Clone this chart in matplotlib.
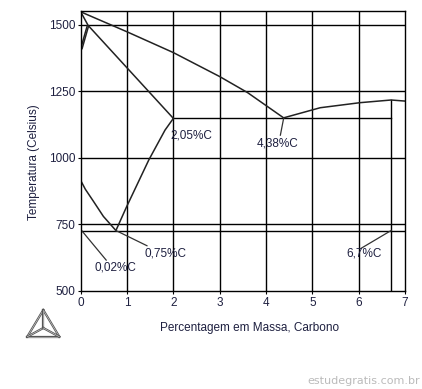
import matplotlib
matplotlib.use("Agg")
import matplotlib.pyplot as plt
from matplotlib.lines import Line2D

# Fe-C phase diagram values (carbon wt%, temperature C)
liquidus_left_c = [0, 1.0, 2.0, 3.0, 3.6, 4.38]
liquidus_left_t = [1548, 1473, 1395, 1305, 1245, 1150]
liquidus_right_c = [4.38, 5.17, 6.03, 6.7, 7.0]
liquidus_right_t = [1150, 1188, 1207, 1217, 1213]
solidus_c = [0, 0.16, 2.0]
solidus_t = [1548, 1497, 1148]
delta_a_c = [0, 0.14]
delta_a_t = [1410, 1495]
delta_b_c = [0.03, 0.17]
delta_b_t = [1410, 1495]
a3_c = [0, 0.1, 0.27, 0.49, 0.76]
a3_t = [915, 882, 838, 780, 727]
acm_c = [0.76, 0.99, 1.47, 1.82, 2.0]
acm_t = [727, 816, 992, 1104, 1148]

eutectic_t = 1148
eutectic_c = [2.0, 6.7]
eutectoid_t = 727
cementite_c = 6.7

x_ticks = [0, 1, 2, 3, 4, 5, 6, 7]
y_ticks = [500, 750, 1000, 1250, 1500]

# label text, anchor point, text position
labels = [
    ("2,05%C", None, (1.93, 1085)),
    ("4,38%C", (4.38, 1148), (4.25, 1052)),
    ("0,75%C", (0.76, 727), (1.83, 639)),
    ("0,02%C", (0.02, 727), (0.76, 590)),
    ("6,7%C", (6.7, 727), (6.11, 639)),
]
leader_ends = {
    "4,38%C": (4.31, 1085),
    "0,75%C": (1.43, 670),
    "0,02%C": (0.55, 616),
    "6,7%C": (6.06, 661),
}

plt.rcParams["font.family"] = ["Liberation Sans", "DejaVu Sans"]
fs = 8.5

W, H = 422, 389
fig = plt.figure(figsize=(W / 100, H / 100), dpi=100)
ax = fig.add_axes([80.7 / W, 1 - 291 / H, (405 - 80.7) / W, (291 - 11.3) / H])
ax.set_xlim(0, 7)
ax.set_ylim(500, 1550)

lw = 1.0
for x in x_ticks[1:-1]:
    ax.axvline(x, color="black", lw=lw)
for y in y_ticks[1:]:
    ax.axhline(y, color="black", lw=lw)
ax.axhline(eutectoid_t, color="black", lw=lw)
ax.plot(eutectic_c, [eutectic_t, eutectic_t], color="black", lw=lw)
ax.plot([cementite_c, cementite_c], [500, liquidus_right_t[3]], color="black", lw=lw)

curve = dict(color="#222222", lw=1.1)
ax.plot(liquidus_left_c, liquidus_left_t, **curve)
ax.plot(liquidus_right_c, liquidus_right_t, **curve)
ax.plot(solidus_c, solidus_t, **curve)
ax.plot(delta_a_c, delta_a_t, **curve)
ax.plot(delta_b_c, delta_b_t, **curve)
ax.plot(a3_c, a3_t, **curve)
ax.plot(acm_c, acm_t, **curve)

label_color = "#1e2040"
for text, anchor, pos in labels:
    if anchor is not None:
        end = leader_ends[text]
        ax.plot([anchor[0], end[0]], [anchor[1], end[1]], color="#333333", lw=0.9)
    ha = "left" if anchor is None else "center"
    ax.text(pos[0], pos[1], text, ha=ha, va="center", fontsize=fs, color=label_color)

for s in ax.spines.values():
    s.set_linewidth(1.0)
ax.set_xticks(x_ticks)
ax.set_yticks(y_ticks)
ax.tick_params(length=2, width=0.8, labelsize=fs, pad=2, colors="black")
for lab in ax.get_xticklabels() + ax.get_yticklabels():
    lab.set_color(label_color)

fig.text(250 / W, 1 - 328 / H, "Percentagem em Massa, Carbono",
         ha="center", va="center", fontsize=fs, color=label_color)
fig.text(34 / W, 1 - 162 / H, "Temperatura (Celsius)", rotation=90,
         ha="center", va="center", fontsize=fs, color=label_color)

# small triangle logo bottom left
apex, bl, br, ctr = (43.3, 310), (27.3, 336.7), (59.3, 336.7), (43.3, 328)
def fpt(p):
    return (p[0] / W, 1 - p[1] / H)
for a, b in [(apex, bl), (bl, br), (br, apex), (ctr, apex), (ctr, bl), (ctr, br)]:
    pa, pb = fpt(a), fpt(b)
    fig.add_artist(Line2D([pa[0], pb[0]], [pa[1], pb[1]], color="#555555", lw=1.6,
                          transform=fig.transFigure))
    fig.add_artist(Line2D([pa[0], pb[0]], [pa[1], pb[1]], color="#dddddd", lw=0.4,
                          transform=fig.transFigure))

fig.text(420 / W, 1 - 380.5 / H, "estudegratis.com.br", ha="right", va="center",
         fontsize=8, color="#bbbbbb", family="DejaVu Sans")

fig.savefig("out.png", dpi=100)
